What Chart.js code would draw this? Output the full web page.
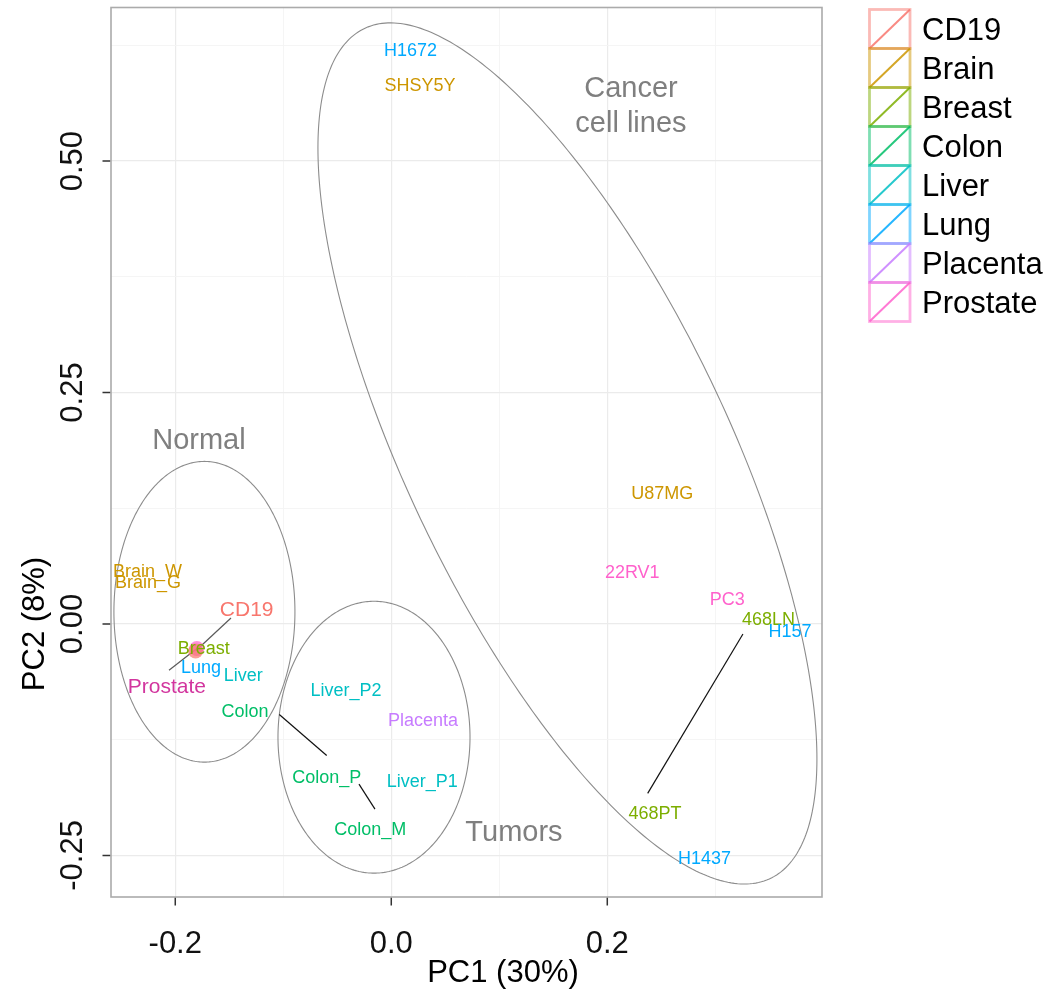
<!DOCTYPE html>
<html>
<head>
<meta charset="utf-8">
<script src="https://cdn.jsdelivr.net/npm/chart.js@4.4.1/dist/chart.umd.min.js"></script>
<style>
  html, body { margin: 0; padding: 0; background: #ffffff; }
  #wrap { width: 1054px; height: 998px; }
</style>
</head>
<body>
<div id="wrap"><canvas id="pca" width="1054" height="998"></canvas></div>
<script>
// ---- PCA scores ----
const groups = ['CD19', 'Brain', 'Breast', 'Colon', 'Liver', 'Lung', 'Placenta', 'Prostate'];

const sampleNames = ['Brain_W', 'Brain_G', 'Prostate', 'CD19', 'Breast', 'Lung', 'Liver', 'Colon',
  'Liver_P2', 'Placenta', 'Colon_P', 'Liver_P1', 'Colon_M',
  'H1672', 'SHSY5Y', 'U87MG', '22RV1', 'PC3', '468LN', 'H157', '468PT', 'H1437'];
const sampleGroup = ['Brain', 'Brain', 'Prostate', 'CD19', 'Breast', 'Lung', 'Liver', 'Colon',
  'Liver', 'Placenta', 'Colon', 'Liver', 'Colon',
  'Lung', 'Brain', 'Brain', 'Prostate', 'Prostate', 'Breast', 'Lung', 'Breast', 'Lung'];
const pc1 = [-0.2257, -0.2253, -0.1800, -0.1812, -0.1737, -0.1762, -0.1370, -0.0598,
  -0.0419, 0.0294, -0.0151, 0.0287, -0.0194,
  0.0178, 0.0266, 0.2509, 0.2231, 0.3111, 0.3493, 0.3692, 0.3256, 0.2900];
const pc2 = [0.0580, 0.0464, -0.0265, -0.0292, -0.0255, -0.0462, -0.0543, -0.1420,
  -0.0708, -0.1032, -0.2000, -0.1687, -0.2208,
  0.6210, 0.5832, 0.1418, 0.0569, 0.0274, 0.0058, -0.0068, -0.0108, -0.2525];

// repelled label placement (null = label sits on its point)
const labelPC1 = [null, null, -0.2077, -0.1339, null, null, null, -0.1355,
  null, null, -0.0598, null, null,
  null, null, null, null, null, null, null, 0.2442, null];
const labelPC2 = [null, null, -0.0662, 0.0166, null, null, null, -0.0931,
  null, null, -0.1651, null, null,
  null, null, null, null, null, null, null, -0.2035, null];
// start of the leader line next to a moved label
const leaderPC1 = [null, null, -0.2058, -0.1484, null, null, null, -0.1037,
  null, null, -0.0299, null, null,
  null, null, null, null, null, null, null, 0.2374, null];
const leaderPC2 = [null, null, -0.0500, 0.0065, null, null, null, -0.0978,
  null, null, -0.1730, null, null,
  null, null, null, null, null, null, null, -0.1830, null];

// samples drawn with a dot
const dotSamples = ['CD19', 'Prostate'];

// cluster ellipses: centre, half extents, correlation
const ellipseCX = [-0.1730, -0.0160, 0.1631];
const ellipseCY = [0.0132, -0.1223, 0.1842];
const ellipseRX = [0.0838, 0.0889, 0.2310];
const ellipseRY = [0.1624, 0.1468, 0.4651];
const ellipseRho = [0.0, 0.0, -0.7094];

// cluster captions
const captionText = ['Normal', 'Tumors', 'Cancer', 'cell lines'];
const captionPC1 = [-0.1781, 0.1136, 0.2219, 0.2219];
const captionPC2 = [0.2004, -0.2226, 0.5803, 0.5425];

// axes
const xMin = -0.2595, xMax = 0.3988;
const yMin = -0.2949, yMax = 0.6659;
const xTickValues = [-0.2, 0.0, 0.2];
const xTickLabels = ['-0.2', '0.0', '0.2'];
const xMinorValues = [-0.1, 0.1, 0.3];
const yTickValues = [-0.25, 0.0, 0.25, 0.5];
const yTickLabels = ['-0.25', '0.00', '0.25', '0.50'];
const yMinorValues = [-0.125, 0.125, 0.375, 0.625];
const xTitle = 'PC1 (30%)';
const yTitle = 'PC2 (8%)';

// ---- styling ----
const groupColors = {
  CD19: '#F8766D', Brain: '#CD9600', Breast: '#7CAE00', Colon: '#00BE67',
  Liver: '#00BFC4', Lung: '#00A9FF', Placenta: '#C77CFF', Prostate: '#FF61CC'
};
const FONT = "'Liberation Sans', Arial, Helvetica, sans-serif";

function rgba(hex, a) {
  const n = parseInt(hex.slice(1), 16);
  return `rgba(${(n >> 16) & 255},${(n >> 8) & 255},${n & 255},${a})`;
}
function isNormalTissue(i) {
  return dotSamples.includes(sampleNames[i]) && sampleGroup[i] === sampleNames[i];
}
function labelColor(i) {
  if (sampleNames[i] === 'Prostate' && sampleGroup[i] === 'Prostate') return '#D2359E';
  return groupColors[sampleGroup[i]];
}
function labelSize(i) {
  return isNormalTissue(i) ? 21 : 18;
}

const decor = {
  id: 'decor',
  beforeDatasetsDraw(chart) {
    const { ctx, chartArea: a, scales: { x, y } } = chart;
    ctx.save();
    ctx.beginPath();
    ctx.rect(a.left, a.top, a.right - a.left, a.bottom - a.top);
    ctx.clip();

    // ellipses
    ctx.strokeStyle = '#8c8c8c';
    ctx.lineWidth = 1.1;
    for (let i = 0; i < ellipseCX.length; i++) {
      const s = Math.sqrt(1 - ellipseRho[i] * ellipseRho[i]);
      ctx.beginPath();
      for (let k = 0; k <= 360; k++) {
        const t = k * Math.PI / 180;
        const vx = ellipseCX[i] + ellipseRX[i] * Math.cos(t);
        const vy = ellipseCY[i] + ellipseRY[i] * (ellipseRho[i] * Math.cos(t) + s * Math.sin(t));
        const X = x.getPixelForValue(vx), Y = y.getPixelForValue(vy);
        if (k === 0) ctx.moveTo(X, Y); else ctx.lineTo(X, Y);
      }
      ctx.closePath();
      ctx.stroke();
    }

    // leader lines
    for (let i = 0; i < sampleNames.length; i++) {
      if (leaderPC1[i] === null) continue;
      ctx.strokeStyle = isNormalTissue(i) ? '#5a5a5a' : '#111111';
      ctx.lineWidth = 1.2;
      ctx.beginPath();
      ctx.moveTo(x.getPixelForValue(leaderPC1[i]), y.getPixelForValue(leaderPC2[i]));
      ctx.lineTo(x.getPixelForValue(pc1[i]), y.getPixelForValue(pc2[i]));
      ctx.stroke();
    }
    ctx.restore();
  },
  afterDatasetsDraw(chart) {
    const { ctx, chartArea: a, scales: { x, y } } = chart;
    ctx.save();
    ctx.beginPath();
    ctx.rect(a.left, a.top, a.right - a.left, a.bottom - a.top);
    ctx.clip();

    // sample labels
    ctx.textAlign = 'center';
    ctx.textBaseline = 'alphabetic';
    for (let i = 0; i < sampleNames.length; i++) {
      const lx = labelPC1[i] === null ? pc1[i] : labelPC1[i];
      const ly = labelPC2[i] === null ? pc2[i] : labelPC2[i];
      const fs = labelSize(i);
      ctx.font = `${fs}px ${FONT}`;
      ctx.fillStyle = labelColor(i);
      ctx.fillText(sampleNames[i], x.getPixelForValue(lx), y.getPixelForValue(ly) + fs * 0.36);
    }

    // cluster captions
    ctx.font = `29px ${FONT}`;
    ctx.fillStyle = '#7f7f7f';
    for (let i = 0; i < captionText.length; i++) {
      ctx.fillText(captionText[i], x.getPixelForValue(captionPC1[i]), y.getPixelForValue(captionPC2[i]) + 29 * 0.36);
    }
    ctx.restore();

    // panel border
    ctx.save();
    ctx.strokeStyle = '#ababab';
    ctx.lineWidth = 1.6;
    ctx.strokeRect(a.left, a.top, a.right - a.left, a.bottom - a.top);

    // tick marks
    ctx.strokeStyle = '#333333';
    ctx.lineWidth = 1.5;
    ctx.beginPath();
    xTickValues.forEach(v => {
      const X = x.getPixelForValue(v);
      ctx.moveTo(X, a.bottom + 0.8);
      ctx.lineTo(X, a.bottom + 8.5);
    });
    yTickValues.forEach(v => {
      const Y = y.getPixelForValue(v);
      ctx.moveTo(a.left - 0.8, Y);
      ctx.lineTo(a.left - 8.5, Y);
    });
    ctx.stroke();

    // tick labels
    ctx.fillStyle = '#111111';
    ctx.font = `31px ${FONT}`;
    ctx.textAlign = 'center';
    ctx.textBaseline = 'alphabetic';
    xTickValues.forEach((v, i) => {
      ctx.fillText(xTickLabels[i], x.getPixelForValue(v), 942 + 31 * 0.36);
    });
    yTickValues.forEach((v, i) => {
      ctx.save();
      ctx.translate(71, y.getPixelForValue(v));
      ctx.rotate(-Math.PI / 2);
      ctx.fillText(yTickLabels[i], 0, 31 * 0.36);
      ctx.restore();
    });

    // axis titles
    ctx.fillStyle = '#000000';
    ctx.font = `31px ${FONT}`;
    ctx.fillText(xTitle, 503, 971 + 31 * 0.36);
    ctx.save();
    ctx.translate(33, 624);
    ctx.rotate(-Math.PI / 2);
    ctx.fillText(yTitle, 0, 31 * 0.36);
    ctx.restore();

    // legend
    const kx = 869.5, ky = 9.5, kw = 40.5, kh = 39;
    groups.forEach((g, i) => {
      const top = ky + i * kh;
      ctx.strokeStyle = rgba(groupColors[g], 0.5);
      ctx.lineWidth = 2.8;
      ctx.strokeRect(kx, top, kw, kh);
      ctx.strokeStyle = rgba(groupColors[g], 0.85);
      ctx.lineWidth = 2;
      ctx.beginPath();
      ctx.moveTo(kx, top + kh);
      ctx.lineTo(kx + kw, top);
      ctx.stroke();
      ctx.fillStyle = '#000000';
      ctx.font = `31px ${FONT}`;
      ctx.textAlign = 'left';
      ctx.fillText(g, 922, top + kh / 2 + 31 * 0.36);
    });
    ctx.restore();
  }
};

const pointColors = sampleGroup.map(g => rgba(groupColors[g], 0.7));

new Chart(document.getElementById('pca'), {
  type: 'scatter',
  data: {
    datasets: [{
      label: 'samples',
      data: pc1.map((v, i) => ({ x: v, y: pc2[i] })),
      pointRadius: ctx => isNormalTissue(ctx.dataIndex) ? 7.5 : 0,
      pointHoverRadius: 0,
      pointBackgroundColor: pointColors,
      pointBorderWidth: 0
    }]
  },
  options: {
    responsive: false,
    animation: false,
    events: [],
    layout: { padding: { left: 111, top: 7, right: 232, bottom: 101 } },
    plugins: { legend: { display: false }, tooltip: { enabled: false } },
    scales: {
      x: {
        type: 'linear', min: xMin, max: xMax,
        afterBuildTicks: s => { s.ticks = xTickValues.concat(xMinorValues).map(v => ({ value: v })); },
        ticks: { display: false },
        border: { display: false },
        grid: {
          drawTicks: false,
          color: c => (c.tick && xTickValues.includes(c.tick.value)) ? '#ebebeb' : '#f4f4f4',
          lineWidth: c => (c.tick && xTickValues.includes(c.tick.value)) ? 1.2 : 0.9
        }
      },
      y: {
        type: 'linear', min: yMin, max: yMax,
        afterBuildTicks: s => { s.ticks = yTickValues.concat(yMinorValues).map(v => ({ value: v })); },
        ticks: { display: false },
        border: { display: false },
        grid: {
          drawTicks: false,
          color: c => (c.tick && yTickValues.includes(c.tick.value)) ? '#ebebeb' : '#f4f4f4',
          lineWidth: c => (c.tick && yTickValues.includes(c.tick.value)) ? 1.2 : 0.9
        }
      }
    }
  },
  plugins: [decor]
});
</script>
</body>
</html>
